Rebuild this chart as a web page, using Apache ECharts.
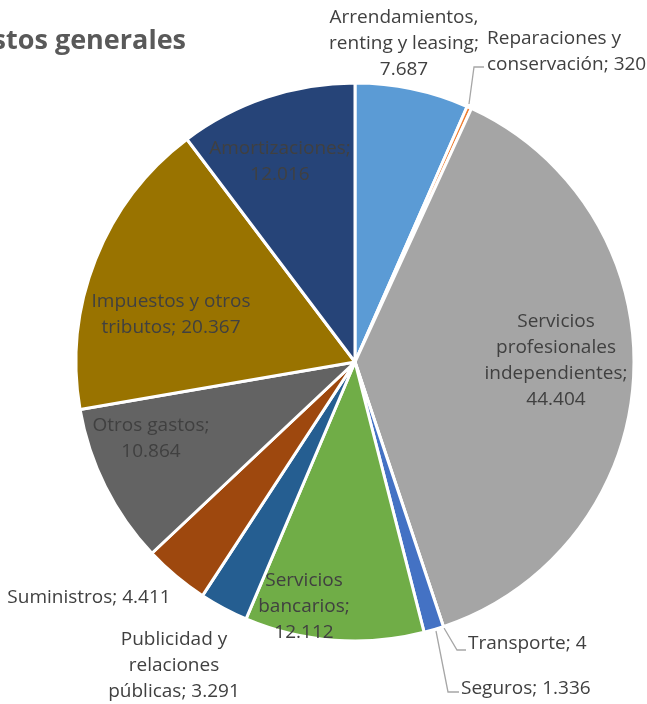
<!DOCTYPE html>
<html>
<head>
<meta charset="utf-8">
<script src="https://cdn.jsdelivr.net/npm/echarts@6/dist/echarts.min.js"></script>
<style>
html,body{margin:0;padding:0;background:#fff;}
#c{width:647px;height:704px;}
</style>
</head>
<body>
<div id="c"></div>
<script>
// ---- data ----
const categories = [
  'Arrendamientos, renting y leasing',
  'Reparaciones y conservación',
  'Servicios profesionales independientes',
  'Transporte',
  'Seguros',
  'Servicios bancarios',
  'Publicidad y relaciones públicas',
  'Suministros',
  'Otros gastos',
  'Impuestos y otros tributos',
  'Amortizaciones'
];
const values = [7687, 320, 44404, 4, 1336, 12112, 3291, 4411, 10864, 20367, 12016];
const titleText = 'Gastos generales';

// label text templates (line breaks as in the reference)
const labelTemplates = [
  'Arrendamientos,\nrenting y leasing;\n{v}',
  'Reparaciones y\nconservación; {v}',
  'Servicios\nprofesionales\nindependientes;\n{v}',
  'Transporte; {v}',
  'Seguros; {v}',
  'Servicios\nbancarios;\n{v}',
  'Publicidad y\nrelaciones\npúblicas; {v}',
  'Suministros; {v}',
  'Otros gastos;\n{v}',
  'Impuestos y otros\ntributos; {v}',
  'Amortizaciones;\n{v}'
];

// ---- styles ----
const colors = ['#5B9BD5','#ED7D31','#A5A5A5','#FFC000','#4472C4','#70AD47','#255E91','#9E480E','#636363','#997300','#264478'];
const insideIdx = [2, 5, 8, 9, 10];
// label anchor positions [x, y, align]
const labelPos = [
  [404, 44, 'center'],
  [487, 52, 'left'],
  [556, 361, 'center'],
  [468, 644, 'left'],
  [461, 689, 'left'],
  [304, 607, 'center'],
  [174, 666, 'center'],
  [89, 598, 'center'],
  [151, 439, 'center'],
  [171, 315, 'center'],
  [280, 162, 'center']
];
const leaderPts = {
  1: [[469, 104], [474, 67], [484, 67]],
  3: [[444, 628], [457, 650], [466, 650]],
  4: [[436, 631], [448, 692], [459, 692]]
};

function fmt(v) { return String(v).replace(/\B(?=(\d{3})+(?!\d))/g, '.'); }

const chart = echarts.init(document.getElementById('c'), null, {renderer: 'canvas'});
const data = categories.map((n, i) => ({
  name: n,
  value: values[i],
  itemStyle: {color: colors[i]},
  label: {position: insideIdx.includes(i) ? 'inside' : 'outside'},
  labelLine: {show: !!leaderPts[i]}
}));

chart.setOption({
  animation: false,
  graphic: [{
    type: 'text',
    x: 186, y: 41,
    style: {
      text: titleText,
      fill: '#595959',
      font: 'bold 27px "Open Sans", sans-serif',
      textAlign: 'right',
      textVerticalAlign: 'middle'
    }
  }],
  series: [{
    type: 'pie',
    center: [355, 362],
    radius: [0, 279],
    startAngle: 90,
    clockwise: true,
    avoidLabelOverlap: false,
    minAngle: 0,
    itemStyle: {borderColor: '#fff', borderWidth: 3},
    label: {
      show: true,
      color: '#404040',
      fontFamily: '"Open Sans", sans-serif',
      fontSize: 19,
      lineHeight: 26,
      formatter: p => labelTemplates[p.dataIndex].replace('{v}', fmt(p.value))
    },
    labelLine: {
      lineStyle: {color: '#A6A6A6', width: 1.3},
      length: 10, length2: 10
    },
    labelLayout: function (p) {
      const lp = labelPos[p.dataIndex];
      const o = {x: lp[0], y: lp[1], align: lp[2], verticalAlign: 'middle'};
      if (leaderPts[p.dataIndex]) o.labelLinePoints = leaderPts[p.dataIndex];
      return o;
    },
    emphasis: {disabled: true},
    data: data
  }]
});
</script>
</body>
</html>
